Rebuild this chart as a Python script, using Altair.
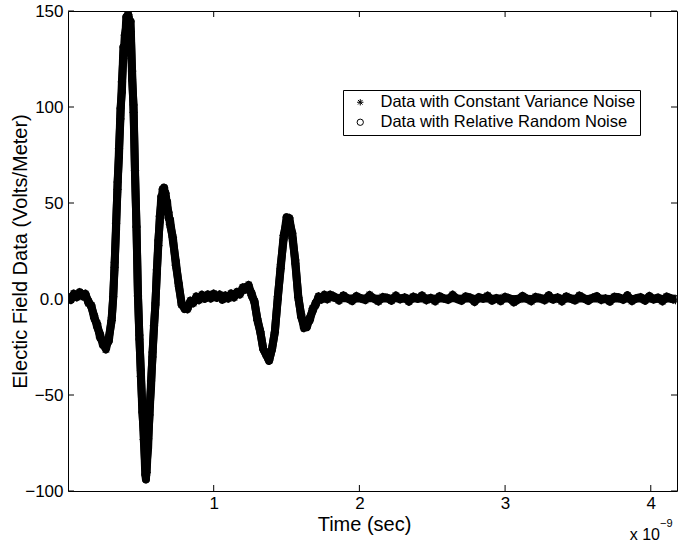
import altair as alt
import pandas as pd

SERIES_CONST = "Data with Constant Variance Noise"
SERIES_REL = "Data with Relative Random Noise"

# time in units of 1e-9 s
time_ns = [
    0.00, 0.02, 0.04, 0.06, 0.08, 0.10, 0.12, 0.14, 0.16, 0.18, 0.20, 0.22, 0.24, 0.26, 0.28, 0.30,
    0.31, 0.32, 0.33, 0.34, 0.35, 0.36, 0.37, 0.38, 0.39, 0.40, 0.41, 0.415, 0.42, 0.43, 0.44, 0.45,
    0.46, 0.47, 0.48, 0.49, 0.50, 0.51, 0.52, 0.53, 0.535, 0.54, 0.55, 0.56, 0.57, 0.58, 0.59, 0.60,
    0.61, 0.62, 0.63, 0.64, 0.65, 0.66, 0.67, 0.68, 0.69, 0.70,
    0.72, 0.74, 0.76, 0.78, 0.80, 0.82, 0.84, 0.86, 0.88, 0.90, 0.92, 0.94, 0.96, 0.98, 1.00, 1.02,
    1.04, 1.06, 1.08, 1.10, 1.12, 1.14, 1.16, 1.18, 1.20, 1.22, 1.24, 1.26, 1.28, 1.30, 1.32, 1.34,
    1.36, 1.38, 1.40, 1.42, 1.44, 1.46, 1.48, 1.50, 1.52, 1.54, 1.56, 1.58, 1.60, 1.62, 1.64, 1.66,
    1.68, 1.70, 1.72, 1.74, 1.76, 1.78, 1.80,
    1.83, 1.86, 1.89, 1.92, 1.95, 1.98, 2.01, 2.04, 2.07, 2.10, 2.13, 2.16, 2.19, 2.22, 2.25, 2.28,
    2.31, 2.34, 2.37, 2.40, 2.43, 2.46, 2.49, 2.52, 2.55, 2.58, 2.61, 2.64, 2.67, 2.70, 2.73, 2.76,
    2.79, 2.82, 2.85, 2.88, 2.91, 2.94, 2.97, 3.00, 3.03, 3.06, 3.09, 3.12, 3.15, 3.18, 3.21, 3.24,
    3.27, 3.30, 3.33, 3.36, 3.39, 3.42, 3.45, 3.48, 3.51, 3.54, 3.57, 3.60, 3.63, 3.66, 3.69, 3.72,
    3.75, 3.78, 3.81, 3.84, 3.87, 3.90, 3.93, 3.96, 3.99, 4.02, 4.05, 4.08, 4.11, 4.14, 4.17,
]

# electric field (V/m), constant-variance noise series (asterisks)
values_const = [
    0.8, -0.5, 2.8, 0.9, 3.6, 1.4, 2.7, -2.1, -3.2, -10.1, -12.9, -20.2, -22.1, -26.3, -20.0, -11.2,
    1.2, 16.5, 39.4, 57.1, 78.3, 93.8, 113.1, 125.2, 137.4, 141.9, 148.1, 146.8, 145.6, 139.3, 118.7, 97.2,
    66.9, 37.4, 1.6, -18.8, -40.3, -55.1, -73.2, -85.8, -92.1, -90.3, -72.8, -60.4, -42.7, -30.2, -13.9, -3.1,
    15.2, 27.8, 43.1, 49.9, 57.2, 55.8, 55.1, 47.9, 45.2, 38.8,
    32.1, 17.6, 8.3, -3.1, -4.2, -5.3, -0.9, -2.2, 1.3, -0.6, 2.2, 0.1, 2.4, 0.3, 2.8, 0.6,
    2.3, -0.4, 1.9, 0.2, 2.9, 0.8, 3.7, 2.4, 6.1, 4.9, 7.3, 1.8, -1.1, -11.2, -16.9, -26.1,
    -28.8, -32.2, -25.9, -17.3, 1.2, 15.8, 33.1, 39.9, 42.2, 31.7, 20.3, 0.8, -7.9, -15.2, -12.8, -11.1,
    -4.9, -3.2, 1.4, -0.3, 2.2, -0.2, 2.3,
    1.2, -0.8, 1.9, 0.3, -1.1, 1.6, 0.4, -0.6, 2.1, 0.2, -1.3, 1.1, 0.7, -0.9, 1.8, -0.2,
    0.9, -1.4, 1.3, 0.1, 1.9, -0.7, 0.6, -1.2, 1.5, 0.3, -0.5, 2.2, 0.0, -1.0, 1.4, 0.8,
    -1.6, 1.0, 0.2, 1.7, -0.9, 0.5, -1.1, 1.2, 0.4, -1.8, -0.3, 1.6, 0.1, -1.2, 1.1, 0.6,
    -0.7, 2.0, -0.4, 0.9, -1.3, 1.4, 0.2, -0.8, 1.8, 0.5, -1.0, 0.7, 1.5, -0.6, 0.3, -1.4,
    1.2, 0.9, -0.5, 1.9, -1.1, 0.4, 1.0, -0.9, 1.6, -0.3, 0.8, -1.2, 1.3, 0.2, -0.6,
]

# electric field (V/m), relative random noise series (circles)
values_rel = [
    0.0, 1.0, 1.4, 2.1, 2.4, 2.6, 1.5, -1.0, -4.2, -8.7, -14.6, -18.3, -24.1, -24.2, -22.0, -9.6,
    0.0, 19.1, 36.2, 60.9, 74.1, 99.3, 107.8, 131.2, 130.4, 146.9, 141.3, 148.0, 139.8, 144.6, 114.2, 101.1,
    64.5, 37.9, 3.1, -21.0, -37.2, -58.9, -68.7, -91.4, -94.0, -85.1, -77.6, -56.2, -46.1, -27.7, -15.6, -2.1,
    13.4, 30.5, 40.1, 53.4, 53.8, 58.0, 51.9, 50.8, 42.2, 41.5,
    30.2, 19.8, 6.7, -2.0, -5.2, -3.9, -2.1, -1.0, 0.0, 0.5, 1.0, 1.0, 1.1, 1.4, 1.6, 1.5,
    1.0, 1.0, 1.1, 1.4, 1.5, 2.1, 2.4, 3.6, 4.8, 6.2, 5.8, 3.1, -2.0, -10.4, -17.3, -26.0,
    -29.1, -32.0, -26.2, -16.7, 0.0, 17.8, 30.9, 42.6, 40.1, 34.2, 18.4, 2.1, -9.3, -13.5, -14.6, -9.7,
    -6.2, -1.9, 0.0, 1.0, 1.0, 1.0, 1.0,
    0.6, 0.4, 0.5, 0.3, 0.2, 0.4, 0.3, 0.2, 0.5, 0.3, 0.1, 0.3, 0.4, 0.2, 0.5, 0.3,
    0.4, 0.1, 0.3, 0.2, 0.4, 0.2, 0.3, 0.1, 0.4, 0.3, 0.2, 0.5, 0.3, 0.1, 0.3, 0.4,
    0.0, 0.3, 0.2, 0.4, 0.1, 0.3, 0.2, 0.4, 0.2, -0.1, 0.1, 0.3, 0.2, 0.0, 0.3, 0.2,
    0.1, 0.4, 0.2, 0.3, 0.1, 0.3, 0.2, 0.1, 0.4, 0.2, 0.0, 0.3, 0.4, 0.1, 0.2, 0.0,
    0.3, 0.3, 0.1, 0.4, 0.0, 0.2, 0.3, 0.1, 0.4, 0.1, 0.2, 0.0, 0.3, 0.2, 0.1,
]

x_ticks = [1, 2, 3, 4]
y_ticks = [-100, -50, 0, 50, 100, 150]
x_domain = [0, 4.18]
y_domain = [-100, 150]

n = len(time_ns)
df = pd.DataFrame({
    "t": time_ns + time_ns,
    "v": values_const + values_rel,
    "series": [SERIES_CONST] * n + [SERIES_REL] * n,
})

FONT = "Liberation Sans"
W, H = 609, 480
ASTERISK = "M-1,0L1,0M0,-1L0,1M-0.72,-0.72L0.72,0.72M-0.72,0.72L0.72,-0.72"

x_axis = alt.Axis(values=x_ticks, ticks=False, domain=False, grid=False,
                  labelFontSize=17, labelPadding=4, labelFont=FONT, labelColor="black",
                  title="Time (sec)", titleFontSize=20, titleFont=FONT, titleFontWeight="normal",
                  titleColor="black", titleX=296, titleY=33, titleBaseline="middle",
                  titleAlign="center")
y_axis = alt.Axis(values=y_ticks, ticks=False, domain=False, grid=False,
                  labelExpr="datum.value == 0 ? '0.0' : datum.label",
                  labelFontSize=17, labelPadding=5, labelFont=FONT, labelColor="black",
                  title="Electic Field Data (Volts/Meter)", titleFontSize=20, titleFont=FONT,
                  titleFontWeight="normal", titleColor="black", titleX=-48, titleY=240,
                  titleBaseline="middle", titleAlign="center", titleAngle=270)

x_enc = alt.X("t:Q", scale=alt.Scale(domain=x_domain, nice=False, zero=False), axis=x_axis)
y_enc = alt.Y("v:Q", scale=alt.Scale(domain=y_domain, nice=False, zero=False), axis=y_axis)

shape_enc = alt.Shape(
    "series:N",
    scale=alt.Scale(domain=[SERIES_CONST, SERIES_REL], range=[ASTERISK, "circle"]),
    legend=alt.Legend(orient="none", legendX=275, legendY=79, title=None,
                      direction="vertical", padding=4, rowPadding=3,
                      strokeColor="black", fillColor="white", cornerRadius=0,
                      symbolOffset=5, labelOffset=12, symbolSize=40,
                      symbolStrokeColor="black", symbolStrokeWidth=1,
                      labelFont=FONT, labelFontSize=16.5, labelColor="black",
                      labelLimit=500),
)

base = alt.Chart(df)

lines = base.mark_line(color="black", strokeWidth=8, clip=True, strokeJoin="round").encode(
    x=x_enc, y=y_enc, detail="series:N", order="t:Q"
)

points_const = base.transform_filter(alt.datum.series == SERIES_CONST).mark_point(
    filled=False, color="black", strokeWidth=1, size=70, opacity=1, clip=True
).encode(x=x_enc, y=y_enc, shape=shape_enc)

points_rel = base.transform_filter(alt.datum.series == SERIES_REL).mark_point(
    filled=False, color="black", strokeWidth=1, size=48, opacity=1, clip=True
).encode(x=x_enc, y=y_enc, shape=shape_enc)

xt = alt.Chart(pd.DataFrame({"t": x_ticks}))
yt = alt.Chart(pd.DataFrame({"v": y_ticks}))
tick_len = 6
ticks_bottom = xt.mark_rule(color="black").encode(x=x_enc, y=alt.value(H), y2=alt.value(H - tick_len))
ticks_top = xt.mark_rule(color="black").encode(x=x_enc, y=alt.value(0), y2=alt.value(tick_len))
ticks_left = yt.mark_rule(color="black").encode(y=y_enc, x=alt.value(0), x2=alt.value(tick_len))
ticks_right = yt.mark_rule(color="black").encode(y=y_enc, x=alt.value(W), x2=alt.value(W - tick_len))

exp_base = alt.Chart(pd.DataFrame({"s": ["x 10"]})).mark_text(
    font=FONT, fontSize=16, align="right", baseline="alphabetic", color="black"
).encode(text="s:N", x=alt.value(592), y=alt.value(529))
exp_sup = alt.Chart(pd.DataFrame({"s": ["\u22129"]})).mark_text(
    font=FONT, fontSize=11, align="left", baseline="alphabetic", color="black"
).encode(text="s:N", x=alt.value(592), y=alt.value(516))

chart = alt.layer(
    lines, points_const, points_rel, ticks_bottom, ticks_top, ticks_left, ticks_right,
    exp_base, exp_sup
).properties(
    width=W, height=H,
    autosize=alt.AutoSizeParams(type="none"),
    padding={"left": 68, "top": 11, "right": 1, "bottom": 56},
    background="white",
).configure_view(stroke="black", strokeWidth=1)

chart.save("out.html", embed_options={"renderer": "svg", "actions": False})
